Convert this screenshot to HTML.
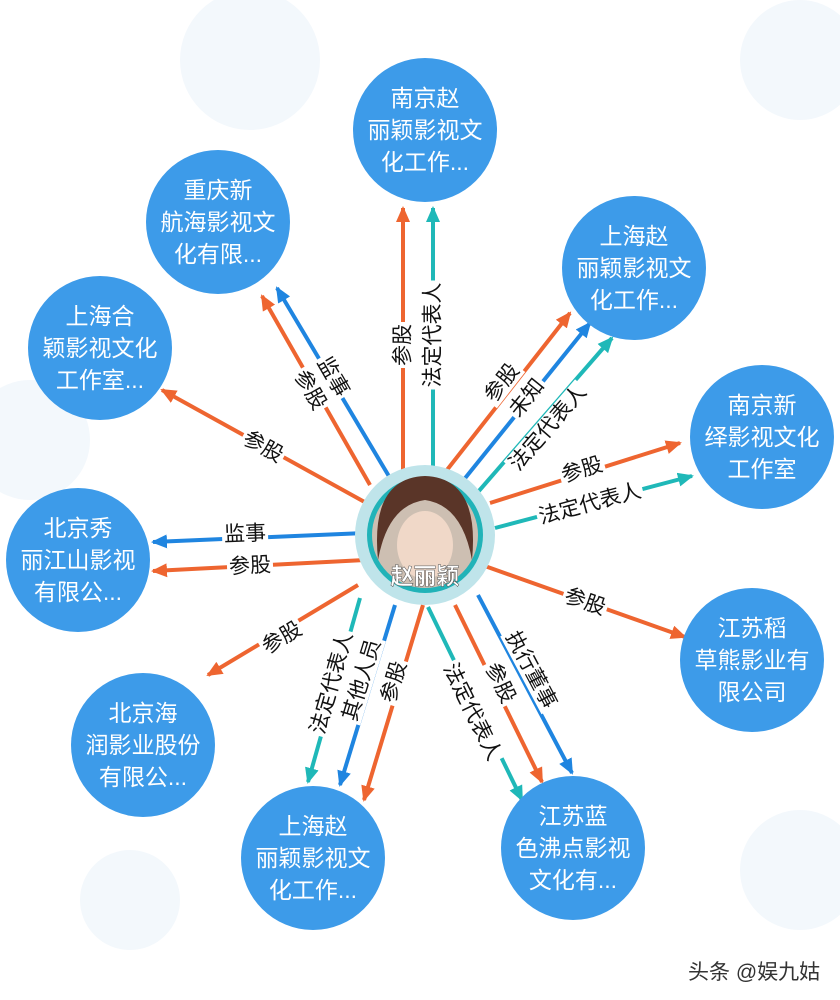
<!DOCTYPE html>
<html><head><meta charset="utf-8"><style>
body{margin:0;width:840px;height:1000px;background:#fff;position:relative;overflow:hidden;font-family:"Liberation Sans","Noto Sans CJK SC",sans-serif}
svg{position:absolute;left:0;top:0}
.n{position:absolute;width:144px;height:144px;border-radius:50%;background:#3d9be9;color:#fff;font-size:23px;line-height:32px;display:flex;align-items:center;justify-content:center;text-align:center}
.l{position:absolute;font-size:21px;line-height:23px;color:#111;background:#fff;padding:0 2px;white-space:nowrap}
</style></head><body>
<svg width="840" height="1000">
<defs>
<marker id="ao" markerWidth="16" markerHeight="14" refX="14" refY="7" orient="auto" markerUnits="userSpaceOnUse"><path d="M0,0 L16,7 L0,14 Z" fill="#ee6530"/></marker>
<marker id="ab" markerWidth="16" markerHeight="14" refX="14" refY="7" orient="auto" markerUnits="userSpaceOnUse"><path d="M0,0 L16,7 L0,14 Z" fill="#1f85e0"/></marker>
<marker id="at" markerWidth="16" markerHeight="14" refX="14" refY="7" orient="auto" markerUnits="userSpaceOnUse"><path d="M0,0 L16,7 L0,14 Z" fill="#1fb8b8"/></marker>
</defs>
<g fill="#f3f8fc"><circle cx="250" cy="60" r="70"/><circle cx="800" cy="60" r="60"/><circle cx="30" cy="440" r="60"/><circle cx="800" cy="870" r="60"/><circle cx="130" cy="900" r="50"/></g>
<g stroke-width="4" fill="none">
<line x1="403" y1="470" x2="403" y2="208" stroke="#ee6530" marker-end="url(#ao)"/>
<line x1="433" y1="470" x2="433" y2="208" stroke="#1fb8b8" marker-end="url(#at)"/>
<line x1="390" y1="478" x2="277" y2="288" stroke="#1f85e0" marker-end="url(#ab)"/>
<line x1="370" y1="485" x2="262" y2="296" stroke="#ee6530" marker-end="url(#ao)"/>
<line x1="443" y1="475" x2="570" y2="313" stroke="#ee6530" marker-end="url(#ao)"/>
<line x1="462" y1="482" x2="590" y2="323" stroke="#1f85e0" marker-end="url(#ab)"/>
<line x1="478" y1="492" x2="612" y2="338" stroke="#1fb8b8" marker-end="url(#at)"/>
<line x1="370" y1="505" x2="162" y2="390" stroke="#ee6530" marker-end="url(#ao)"/>
<line x1="490" y1="503" x2="680" y2="443" stroke="#ee6530" marker-end="url(#ao)"/>
<line x1="495" y1="528" x2="692" y2="476" stroke="#1fb8b8" marker-end="url(#at)"/>
<line x1="365" y1="533" x2="153" y2="542" stroke="#1f85e0" marker-end="url(#ab)"/>
<line x1="365" y1="560" x2="153" y2="571" stroke="#ee6530" marker-end="url(#ao)"/>
<line x1="482" y1="565" x2="685" y2="637" stroke="#ee6530" marker-end="url(#ao)"/>
<line x1="358" y1="585" x2="208" y2="675" stroke="#ee6530" marker-end="url(#ao)"/>
<line x1="360" y1="598" x2="308" y2="782" stroke="#1fb8b8" marker-end="url(#at)"/>
<line x1="395" y1="605" x2="340" y2="785" stroke="#1f85e0" marker-end="url(#ab)"/>
<line x1="423" y1="605" x2="364" y2="800" stroke="#ee6530" marker-end="url(#ao)"/>
<line x1="428" y1="607" x2="522" y2="800" stroke="#1fb8b8" marker-end="url(#at)"/>
<line x1="455" y1="605" x2="542" y2="782" stroke="#ee6530" marker-end="url(#ao)"/>
<line x1="478" y1="595" x2="572" y2="773" stroke="#1f85e0" marker-end="url(#ab)"/>
</g>
<circle cx="425" cy="535" r="70" fill="#bfe4ea"/>
<circle cx="425" cy="535" r="58" fill="#21b3b8"/>
<circle cx="425" cy="535" r="53" fill="#cdbfb2"/>
<ellipse cx="425" cy="545" rx="28" ry="34" fill="#f0d8c8"/>
<path d="M378,560 Q370,478 425,476 Q480,478 472,560 Q462,505 425,500 Q388,505 378,560Z" fill="#5a3528"/>
<text x="425" y="584" font-size="23" font-weight="bold" fill="#fff" stroke="#555" stroke-width="0.5" text-anchor="middle" font-family="Liberation Sans, Noto Sans CJK SC, sans-serif">赵丽颖</text>
</svg>
<div class="n" style="left:353px;top:58px">南京赵<br>丽颖影视文<br>化工作...</div>
<div class="n" style="left:146px;top:150px">重庆新<br>航海影视文<br>化有限...</div>
<div class="n" style="left:562px;top:196px">上海赵<br>丽颖影视文<br>化工作...</div>
<div class="n" style="left:28px;top:276px">上海合<br>颖影视文化<br>工作室...</div>
<div class="n" style="left:690px;top:365px">南京新<br>绎影视文化<br>工作室</div>
<div class="n" style="left:6px;top:488px">北京秀<br>丽江山影视<br>有限公...</div>
<div class="n" style="left:680px;top:588px">江苏稻<br>草熊影业有<br>限公司</div>
<div class="n" style="left:71px;top:673px">北京海<br>润影业股份<br>有限公...</div>
<div class="n" style="left:241px;top:786px">上海赵<br>丽颖影视文<br>化工作...</div>
<div class="n" style="left:501px;top:776px">江苏蓝<br>色沸点影视<br>文化有...</div>

<div class="l" style="left:403px;top:345px;transform:translate(-50%,-50%) rotate(-90deg)">参股</div>
<div class="l" style="left:433px;top:335px;transform:translate(-50%,-50%) rotate(-90deg)">法定代表人</div>
<div class="l" style="left:333px;top:377px;transform:translate(-50%,-50%) rotate(60deg)">监事</div>
<div class="l" style="left:310px;top:390px;transform:translate(-50%,-50%) rotate(60deg)">参股</div>
<div class="l" style="left:502px;top:383px;transform:translate(-50%,-50%) rotate(-52deg)">参股</div>
<div class="l" style="left:527px;top:398px;transform:translate(-50%,-50%) rotate(-51deg)">未知</div>
<div class="l" style="left:548px;top:428px;transform:translate(-50%,-50%) rotate(-49deg)">法定代表人</div>
<div class="l" style="left:263px;top:447px;transform:translate(-50%,-50%) rotate(29deg)">参股</div>
<div class="l" style="left:582px;top:470px;transform:translate(-50%,-50%) rotate(-17deg)">参股</div>
<div class="l" style="left:590px;top:504px;transform:translate(-50%,-50%) rotate(-15deg)">法定代表人</div>
<div class="l" style="left:245px;top:534px;transform:translate(-50%,-50%) rotate(-2deg)">监事</div>
<div class="l" style="left:250px;top:566px;transform:translate(-50%,-50%) rotate(-3deg)">参股</div>
<div class="l" style="left:585px;top:602px;transform:translate(-50%,-50%) rotate(19deg)">参股</div>
<div class="l" style="left:282px;top:638px;transform:translate(-50%,-50%) rotate(-31deg)">参股</div>
<div class="l" style="left:332px;top:683px;transform:translate(-50%,-50%) rotate(-74deg)">法定代表人</div>
<div class="l" style="left:362px;top:680px;transform:translate(-50%,-50%) rotate(-73deg)">其他人员</div>
<div class="l" style="left:394px;top:682px;transform:translate(-50%,-50%) rotate(-73deg)">参股</div>
<div class="l" style="left:472px;top:712px;transform:translate(-50%,-50%) rotate(64deg)">法定代表人</div>
<div class="l" style="left:500px;top:683px;transform:translate(-50%,-50%) rotate(64deg)">参股</div>
<div class="l" style="left:531px;top:670px;transform:translate(-50%,-50%) rotate(62deg)">执行董事</div>
<div style="position:absolute;left:688px;top:956px;font-size:21px;color:#333">头条 @娱九姑</div>
</body></html>
